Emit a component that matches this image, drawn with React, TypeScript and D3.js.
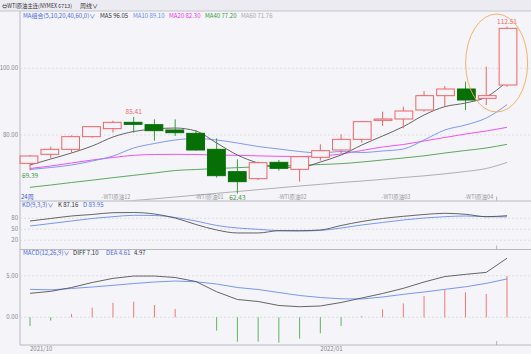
import * as d3 from "d3";

// weekly candles, WTI crude continuous
const opens = [71.5, 74.2, 75.7, 79.5, 81.9, 83.8, 83.1, 81.5, 80.5, 75.7, 69.0, 66.9, 71.8, 69.7, 73.3, 75.5, 78.7, 84.4, 84.8, 87.5, 91.8, 93.8, 91.0, 95.0];
const closes = [73.7, 75.7, 79.5, 82.5, 83.8, 83.2, 81.3, 80.7, 75.5, 67.8, 66.0, 71.7, 70.0, 73.5, 75.3, 78.7, 84.0, 84.8, 87.2, 91.8, 93.8, 90.5, 91.8, 112.0];
const highs = [74.0, 76.5, 79.9, 82.6, 84.3, 85.41, 84.7, 84.7, 81.5, 79.0, 72.7, 72.0, 72.5, 73.6, 77.2, 80.2, 84.2, 87.0, 88.5, 93.2, 94.7, 96.0, 100.5, 112.51];
const lows = [69.39, 73.0, 74.7, 79.2, 80.7, 80.7, 78.3, 79.7, 75.3, 67.2, 62.43, 66.5, 69.3, 66.0, 72.3, 74.5, 77.7, 82.7, 82.0, 87.0, 88.5, 87.5, 89.0, 94.5];

const ma5 = [71.0, 72.8, 74.6, 76.7, 79.4, 81.05, 81.8, 82.1, 81.2, 77.6, 74.0, 71.6, 70.4, 70.25, 71.9, 74.0, 77.0, 79.7, 82.5, 86.0, 88.5, 89.6, 91.4, 96.05];
const ma10 = [69.65, 70.25, 71.0, 72.2, 73.7, 76.1, 77.45, 78.5, 78.95, 78.5, 77.6, 76.55, 75.8, 75.05, 74.6, 75.05, 74.75, 75.2, 75.8, 78.5, 81.5, 83.0, 85.1, 89.1];
const ma20 = [69.95, 70.7, 71.6, 72.5, 73.25, 73.9, 74.15, 74.2, 74.15, 74.0, 73.9, 73.75, 73.6, 73.55, 73.7, 74.3, 75.35, 76.4, 77.15, 78.2, 79.25, 80.3, 81.2, 82.3];
const ma40 = [64.3, 65.0, 65.75, 66.45, 67.2, 67.9, 68.6, 69.35, 69.65, 69.95, 70.2, 70.45, 70.7, 70.9, 71.15, 71.4, 71.9, 72.5, 73.1, 73.75, 74.6, 75.35, 76.1, 77.2];
const ma60 = [57.5, 58.1, 58.7, 59.15, 59.75, 60.35, 60.85, 61.4, 61.95, 62.5, 63.05, 63.6, 64.15, 64.7, 65.2, 65.75, 66.2, 66.7, 67.25, 67.75, 68.35, 69.05, 69.95, 71.76];

const kLine = [72.6, 79.5, 86.3, 90.4, 95.3, 95.8, 91.7, 80.8, 63.1, 48.1, 40.0, 40.0, 46.2, 46.2, 48.1, 60.4, 71.3, 79.5, 85.4, 90.4, 93.6, 90.9, 84.4, 87.16];
const dLine = [59.0, 65.8, 72.6, 79.5, 84.4, 88.2, 87.6, 82.2, 72.6, 60.4, 53.6, 50.0, 46.2, 45.4, 46.8, 53.6, 61.7, 68.6, 75.4, 80.8, 84.4, 86.3, 84.4, 83.95];

const diff = [2.88, 3.12, 3.58, 4.18, 4.68, 4.96, 4.96, 4.78, 4.3, 3.07, 2.14, 1.9, 1.42, 1.27, 1.36, 1.78, 2.32, 2.86, 3.48, 4.24, 4.9, 5.16, 5.4, 7.1];
const dea = [3.36, 3.3, 3.46, 3.64, 3.84, 4.06, 4.24, 4.36, 4.27, 4.0, 3.58, 3.34, 2.98, 2.62, 2.38, 2.22, 2.2, 2.44, 2.76, 3.04, 3.36, 3.67, 4.08, 4.61];
const macdBars = [-1.04, -0.4, 0.4, 1.15, 1.75, 1.87, 1.48, 1.0, 0.0, -1.6, -2.93, -2.93, -3.05, -2.57, -1.92, -1.04, 0.15, 0.96, 1.68, 2.56, 3.28, 3.0, 2.8, 4.97];

const priceTicks = [80, 100];
const kdTicks = [20, 50, 80];
const macdTicks = [0, 5];
const contracts = [
  { at: 3.5, label: "-WTI原油12" },
  { at: 8, label: "-WTI原油01" },
  { at: 12, label: "-WTI原油02" },
  { at: 17, label: "-WTI原油03" },
  { at: 21, label: "-WTI原油04" },
];
const dateLabels = [
  { at: 0, label: "2021/10" },
  { at: 14, label: "2022/01" },
];

const W = 531;
const H = 354;
const LEFT = 20;
const BG = "#f4f4f9";
const UP = "#f06464";
const DOWN = "#067006";
const DOWN_WICK = "#3c9c3c";
const FONT = "'Noto Sans CJK SC', 'Noto Sans', sans-serif";

const main = { top: 11, bottom: 200.5 };
const kd = { top: 201.5, bottom: 249.5 };
const mc = { top: 249.5, bottom: 345 };

export default function App() {
  const idx = d3.range(opens.length);
  const x = d3.scaleLinear().domain([0, idx.length - 1]).range([30, 507]);
  const band = d3.scaleBand<number>().domain(idx).range([19.6, 517.4]).paddingInner(0.1);
  const bw = band.bandwidth();

  const yP = d3.scaleLinear().domain([60.35, 117.2]).range([main.bottom, main.top]);
  const yK = d3.scaleLinear().domain([20, 80]).range([240.3, 218.3]);
  const yM = d3.scaleLinear().domain([0, 5]).range([317.3, 275.7]);

  const lineOf = (y: d3.ScaleLinear<number, number>, curve = d3.curveMonotoneX) =>
    d3.line<number>().x((_, i) => x(i)).y((v) => y(v)).curve(curve);

  const maLine = lineOf(yP);
  const kdLine = lineOf(yK);
  const mLine = lineOf(yM, d3.curveLinear);

  const grid = (y: number, key: string) => (
    <line key={key} x1={LEFT} x2={W} y1={y} y2={y} stroke="#d4d4da" strokeDasharray="2,2" strokeWidth={0.7} />
  );
  const tickText = (y: number, t: string, key: string) => (
    <text key={key} x={18} y={y + 2} fontSize={6} fill="#888" textAnchor="end">{t}</text>
  );

  const last = idx.length - 1;
  const cursorX = (x(last - 1) + x(last)) / 2;

  return (
    <svg width={W} height={H} style={{ position: "absolute", left: 0, top: 0, background: BG }} fontFamily={FONT}>
      <defs>
        <clipPath id="mainClip">
          <rect x={LEFT} y={main.top} width={W - LEFT} height={main.bottom - main.top} />
        </clipPath>
      </defs>
      <rect width={W} height={H} fill={BG} />
      {/* header strip */}
      <rect width={W} height={main.top} fill="#ebebf1" />
      <line x1={0} x2={W} y1={main.top} y2={main.top} stroke="#c4c4cc" />
      <text x={2} y={7.5} fontSize={5.5} fill="#333" textLength={70} lengthAdjust="spacingAndGlyphs">⇔WTI原油主连(NYMEX 6713)</text>
      <text x={80} y={7.5} fontSize={6} fill="#333">周线∨</text>

      {/* panel frames */}
      <line x1={LEFT} x2={LEFT} y1={main.top} y2={mc.bottom} stroke="#b8b8c0" />
      <line x1={LEFT} x2={W} y1={kd.top - 0.5} y2={kd.top - 0.5} stroke="#b8b8c0" />
      <line x1={LEFT} x2={W} y1={kd.bottom} y2={kd.bottom} stroke="#b8b8c0" />
      <line x1={LEFT} x2={W} y1={mc.bottom} y2={mc.bottom} stroke="#b8b8c0" />

      {/* grids + axis labels */}
      {priceTicks.map((t) => grid(yP(t), "pg" + t))}
      {priceTicks.map((t) => tickText(yP(t), t.toFixed(2), "pt" + t))}
      {kdTicks.map((t) => grid(yK(t), "kg" + t))}
      {kdTicks.map((t) => tickText(yK(t), String(t), "kt" + t))}
      {macdTicks.map((t) => grid(yM(t), "mg" + t))}
      {macdTicks.map((t) => tickText(yM(t), t.toFixed(2), "mt" + t))}

      {/* legend */}
      <text y={17.5} fontSize={6} fontFamily={FONT}>
        <tspan x={23} fill="#4a6be0">MA组合(5,10,20,40,60,0)∨</tspan>
        <tspan x={100} fill="#333">MA5 96.05</tspan>
        <tspan x={133} fill="#6a8cf0">MA10 89.10</tspan>
        <tspan x={169} fill="#f030f0">MA20 82.30</tspan>
        <tspan x={205} fill="#3a9a3a">MA40 77.20</tspan>
        <tspan x={241} fill="#aaa">MA60 71.76</tspan>
      </text>

      {/* moving averages */}
      <g clipPath="url(#mainClip)" fill="none" strokeWidth={0.9}>
        <path d={maLine(ma60) ?? ""} stroke="#a8a8a8" />
        <path d={maLine(ma40) ?? ""} stroke="#4aa04a" />
        <path d={maLine(ma20) ?? ""} stroke="#f040f0" />
        <path d={maLine(ma10) ?? ""} stroke="#7090f0" />
        <path d={maLine(ma5) ?? ""} stroke="#555" />
      </g>

      {/* candles */}
      <g>
        {idx.map((i) => {
          const up = closes[i] >= opens[i];
          const cx = x(i);
          const top = yP(Math.max(opens[i], closes[i]));
          const bot = yP(Math.min(opens[i], closes[i]));
          const left = band(i) ?? 0;
          return (
            <g key={i}>
              <line x1={cx} x2={cx} y1={yP(highs[i])} y2={yP(lows[i])} stroke={up ? UP : DOWN_WICK} strokeWidth={1} />
              <rect
                x={left + 0.5}
                y={top}
                width={bw - 1}
                height={Math.max(bot - top, 1)}
                fill={up ? BG : DOWN}
                stroke={up ? UP : DOWN}
                strokeWidth={1}
              />
            </g>
          );
        })}
      </g>

      {/* high / low labels */}
      <text x={x(5)} y={yP(highs[5]) - 3} fontSize={6.5} fill={UP} textAnchor="middle">85.41</text>
      <text x={x(last)} y={yP(highs[last]) - 3} fontSize={6.5} fill={UP} textAnchor="middle">112.51</text>
      <text x={x(0)} y={yP(lows[0]) + 7.5} fontSize={6.5} fill="#3a9a3a" textAnchor="middle">69.39</text>
      <text x={x(10)} y={yP(lows[10]) + 6.5} fontSize={6.5} fill="#3a9a3a" textAnchor="middle">62.43</text>

      {/* highlight ellipse */}
      <ellipse cx={cursorX} cy={yP(101.6)} rx={31} ry={49} fill="none" stroke="#f5a95e" strokeWidth={0.9} />

      {/* contract roll markers */}
      <text x={21} y={199} fontSize={6} fill="#3a55cc">24周</text>
      {contracts.map((c) => (
        <text key={c.label} x={x(c.at) - 1} y={198.5} fontSize={5.5} fill="#999">{c.label}</text>
      ))}

      {/* cursor ticks */}
      {[main.bottom, kd.bottom, mc.bottom].map((b) => (
        <line key={b} x1={cursorX} x2={cursorX} y1={b - 4} y2={b} stroke="#999" strokeWidth={0.7} />
      ))}

      {/* KD panel */}
      <text y={207} fontSize={6} fontFamily={FONT}>
        <tspan x={22} fill="#4a6be0">KD(9,3,3)∨</tspan>
        <tspan x={58} fill="#333">K 87.16</tspan>
        <tspan x={83} fill="#4a6be0">D 83.95</tspan>
      </text>
      <path d={kdLine(dLine) ?? ""} fill="none" stroke="#6a8cf0" strokeWidth={0.9} />
      <path d={kdLine(kLine) ?? ""} fill="none" stroke="#555" strokeWidth={0.9} />

      {/* MACD panel */}
      <text y={255} fontSize={6} fontFamily={FONT}>
        <tspan x={23} fill="#4a6be0">MACD(12,26,9)∨</tspan>
        <tspan x={73} fill="#333">DIFF 7.10</tspan>
        <tspan x={106} fill="#4a6be0">DEA 4.61</tspan>
        <tspan x={134} fill="#333">4.97</tspan>
      </text>
      {idx.map((i) => (
        <line
          key={"h" + i}
          x1={x(i)}
          x2={x(i)}
          y1={yM(0)}
          y2={yM(macdBars[i])}
          stroke={macdBars[i] >= 0 ? "#f07878" : "#5cb85c"}
          strokeWidth={1}
        />
      ))}
      <path d={mLine(dea) ?? ""} fill="none" stroke="#6a8cf0" strokeWidth={0.9} />
      <path d={mLine(diff) ?? ""} fill="none" stroke="#555" strokeWidth={0.9} />

      {/* date axis */}
      {dateLabels.map((d) => (
        <text key={d.label} x={x(d.at)} y={351} fontSize={6} fill="#888">{d.label}</text>
      ))}
    </svg>
  );
}
